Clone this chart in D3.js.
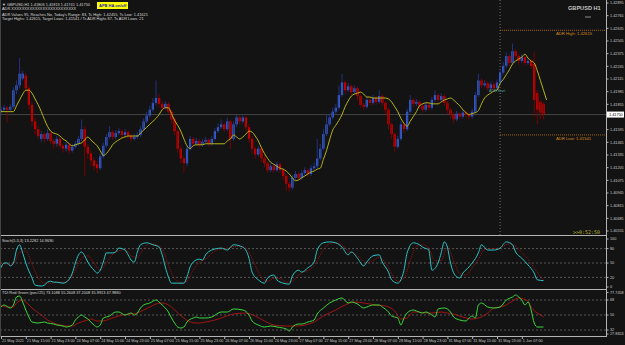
<!DOCTYPE html>
<html><head><meta charset="utf-8">
<script src="https://cdn.jsdelivr.net/npm/d3@7"></script>
<style>html,body{margin:0;padding:0;background:#131313;overflow:hidden}svg{display:block}</style>
</head><body><svg id="c" width="625" height="345"></svg>
<script>
// ---- DATA (GBPUSD H1, 21 May 07:00 -> 1 Jun 14:00) ----
const opens = [1.4178,1.4180,1.4182,1.4180,1.4183,1.4200,1.4205,1.4212,1.4215,1.4202,
1.4185,1.4168,1.4160,1.4150,1.4155,1.4150,1.4156,1.4148,1.4145,1.4150,
1.4143,1.4140,1.4144,1.4138,1.4142,1.4145,1.4150,1.4160,1.4142,1.4135,
1.4128,1.4124,1.4120,1.4132,1.4143,1.4152,1.4157,1.4152,1.4156,1.4158,
1.4154,1.4157,1.4153,1.4150,1.4152,1.4154,1.4160,1.4168,1.4174,1.4180,
1.4187,1.4192,1.4186,1.4182,1.4186,1.4178,1.4170,1.4158,1.4140,1.4130,
1.4125,1.4140,1.4150,1.4145,1.4148,1.4144,1.4147,1.4149,1.4145,1.4150,
1.4158,1.4162,1.4165,1.4160,1.4168,1.4150,1.4165,1.4172,1.4168,1.4172,
1.4162,1.4150,1.4140,1.4134,1.4140,1.4130,1.4125,1.4118,1.4122,1.4118,
1.4124,1.4118,1.4112,1.4104,1.4100,1.4110,1.4114,1.4110,1.4115,1.4118,
1.4114,1.4120,1.4122,1.4130,1.4140,1.4155,1.4165,1.4172,1.4178,1.4182,
1.4195,1.4208,1.4200,1.4204,1.4198,1.4202,1.4194,1.4185,1.4183,1.4190,
1.4187,1.4192,1.4188,1.4194,1.4187,1.4180,1.4165,1.4155,1.4142,1.4150,
1.4165,1.4160,1.4178,1.4190,1.4186,1.4188,1.4184,1.4180,1.4185,1.4182,
1.4190,1.4195,1.4190,1.4194,1.4187,1.4180,1.4175,1.4170,1.4176,1.4173,
1.4177,1.4175,1.4173,1.4178,1.4195,1.4210,1.4205,1.4207,1.4202,1.4206,
1.4202,1.4208,1.4218,1.4225,1.4235,1.4228,1.4240,1.4235,1.4230,1.4234,
1.4228,1.4230,1.4227,1.4197,1.4188,1.4186];
const closes = [1.4180,1.4182,1.4180,1.4183,1.4200,1.4205,1.4217,1.4217,1.4202,1.4185,
1.4168,1.4160,1.4153,1.4155,1.4150,1.4156,1.4148,1.4145,1.4150,1.4143,
1.4140,1.4144,1.4138,1.4142,1.4145,1.4150,1.4160,1.4142,1.4135,1.4128,
1.4122,1.4120,1.4132,1.4143,1.4152,1.4157,1.4152,1.4156,1.4158,1.4154,
1.4157,1.4153,1.4150,1.4152,1.4154,1.4160,1.4168,1.4174,1.4180,1.4187,
1.4192,1.4186,1.4182,1.4186,1.4178,1.4170,1.4158,1.4140,1.4130,1.4125,
1.4140,1.4150,1.4145,1.4148,1.4144,1.4147,1.4149,1.4145,1.4150,1.4158,
1.4162,1.4165,1.4160,1.4168,1.4150,1.4165,1.4172,1.4168,1.4172,1.4162,
1.4150,1.4140,1.4134,1.4140,1.4130,1.4125,1.4118,1.4122,1.4118,1.4124,
1.4118,1.4112,1.4104,1.4100,1.4110,1.4114,1.4110,1.4115,1.4118,1.4114,
1.4120,1.4122,1.4130,1.4140,1.4155,1.4165,1.4172,1.4178,1.4182,1.4195,
1.4208,1.4200,1.4204,1.4198,1.4202,1.4194,1.4185,1.4183,1.4190,1.4187,
1.4192,1.4188,1.4194,1.4187,1.4180,1.4165,1.4155,1.4142,1.4150,1.4165,
1.4160,1.4178,1.4190,1.4186,1.4188,1.4184,1.4180,1.4185,1.4182,1.4190,
1.4195,1.4190,1.4194,1.4187,1.4180,1.4175,1.4170,1.4176,1.4173,1.4177,
1.4175,1.4173,1.4178,1.4195,1.4210,1.4205,1.4207,1.4202,1.4206,1.4202,
1.4208,1.4218,1.4225,1.4235,1.4228,1.4240,1.4235,1.4230,1.4234,1.4228,
1.4230,1.4225,1.4190,1.4180,1.4177,1.4175];
const highs = [1.4183,1.4185,1.4184,1.4186,1.4203,1.4210,1.4233,1.4220,1.4218,1.4204,
1.4188,1.4172,1.4163,1.4158,1.4157,1.4160,1.4158,1.4150,1.4153,1.4152,
1.4145,1.4147,1.4146,1.4145,1.4148,1.4153,1.4170,1.4163,1.4145,1.4138,
1.4131,1.4127,1.4135,1.4146,1.4155,1.4163,1.4159,1.4159,1.4161,1.4160,
1.4160,1.4159,1.4155,1.4155,1.4157,1.4163,1.4171,1.4178,1.4184,1.4192,
1.4210,1.4196,1.4189,1.4189,1.4188,1.4180,1.4172,1.4160,1.4143,1.4133,
1.4143,1.4153,1.4152,1.4151,1.4150,1.4150,1.4152,1.4151,1.4153,1.4161,
1.4166,1.4170,1.4167,1.4172,1.4170,1.4168,1.4175,1.4174,1.4175,1.4174,
1.4165,1.4153,1.4142,1.4143,1.4142,1.4133,1.4127,1.4125,1.4124,1.4127,
1.4126,1.4120,1.4114,1.4106,1.4113,1.4117,1.4116,1.4118,1.4121,1.4120,
1.4123,1.4126,1.4150,1.4145,1.4160,1.4175,1.4176,1.4182,1.4186,1.4205,
1.4217,1.4210,1.4207,1.4206,1.4205,1.4204,1.4196,1.4187,1.4193,1.4192,
1.4195,1.4194,1.4200,1.4196,1.4189,1.4182,1.4167,1.4157,1.4153,1.4168,
1.4167,1.4181,1.4195,1.4192,1.4191,1.4190,1.4186,1.4188,1.4187,1.4193,
1.4200,1.4197,1.4197,1.4196,1.4189,1.4182,1.4177,1.4179,1.4178,1.4180,
1.4179,1.4177,1.4181,1.4198,1.4217,1.4212,1.4210,1.4209,1.4209,1.4208,
1.4211,1.4222,1.4229,1.4239,1.4237,1.4248,1.4242,1.4237,1.4237,1.4236,
1.4233,1.4232,1.4240,1.4200,1.4190,1.4188];
const lows = [1.4176,1.4178,1.4167,1.4178,1.4181,1.4196,1.4202,1.4210,1.4198,1.4180,
1.4163,1.4155,1.4150,1.4147,1.4146,1.4148,1.4145,1.4140,1.4142,1.4140,
1.4136,1.4137,1.4135,1.4136,1.4140,1.4143,1.4148,1.4112,1.4130,1.4122,
1.4118,1.4115,1.4118,1.4130,1.4141,1.4150,1.4149,1.4150,1.4154,1.4151,
1.4152,1.4150,1.4147,1.4148,1.4150,1.4152,1.4158,1.4166,1.4172,1.4178,
1.4185,1.4183,1.4179,1.4180,1.4175,1.4166,1.4154,1.4136,1.4125,1.4115,
1.4122,1.4138,1.4142,1.4143,1.4141,1.4142,1.4145,1.4142,1.4143,1.4148,
1.4156,1.4160,1.4157,1.4158,1.4140,1.4148,1.4162,1.4165,1.4166,1.4158,
1.4146,1.4135,1.4130,1.4132,1.4126,1.4121,1.4115,1.4116,1.4115,1.4116,
1.4115,1.4108,1.4097,1.4096,1.4098,1.4108,1.4107,1.4108,1.4113,1.4111,
1.4112,1.4118,1.4120,1.4128,1.4138,1.4153,1.4163,1.4170,1.4176,1.4180,
1.4193,1.4196,1.4198,1.4195,1.4196,1.4190,1.4182,1.4180,1.4181,1.4184,
1.4185,1.4185,1.4186,1.4184,1.4176,1.4160,1.4150,1.4137,1.4140,1.4148,
1.4156,1.4158,1.4176,1.4183,1.4184,1.4181,1.4177,1.4178,1.4179,1.4180,
1.4188,1.4187,1.4188,1.4184,1.4176,1.4171,1.4166,1.4168,1.4170,1.4171,
1.4172,1.4170,1.4171,1.4176,1.4193,1.4202,1.4203,1.4199,1.4200,1.4199,
1.4200,1.4206,1.4216,1.4223,1.4225,1.4226,1.4232,1.4226,1.4228,1.4225,
1.4226,1.4222,1.4173,1.4165,1.4170,1.4170];
const maLine = [1.4178,1.4178,1.4178,1.4178,1.4178,1.4184,1.4190,1.4196,1.4200,1.4200,
1.4197,1.4191,1.4185,1.4178,1.4170,1.4163,1.4158,1.4156,1.4155,1.4153,
1.4150,1.4148,1.4145,1.4143,1.4144,1.4145,1.4146,1.4149,1.4152,1.4149,
1.4146,1.4143,1.4138,1.4133,1.4135,1.4139,1.4144,1.4147,1.4149,1.4151,
1.4152,1.4153,1.4153,1.4153,1.4153,1.4156,1.4159,1.4162,1.4165,1.4168,
1.4171,1.4175,1.4180,1.4182,1.4182,1.4176,1.4169,1.4164,1.4158,1.4150,
1.4143,1.4140,1.4143,1.4144,1.4144,1.4144,1.4145,1.4145,1.4145,1.4145,
1.4145,1.4145,1.4145,1.4148,1.4150,1.4154,1.4152,1.4150,1.4152,1.4155,
1.4158,1.4157,1.4153,1.4148,1.4141,1.4135,1.4130,1.4126,1.4124,1.4122,
1.4120,1.4119,1.4117,1.4114,1.4110,1.4107,1.4108,1.4110,1.4112,1.4114,
1.4116,1.4117,1.4119,1.4120,1.4129,1.4138,1.4149,1.4159,1.4164,1.4169,
1.4175,1.4183,1.4189,1.4194,1.4196,1.4197,1.4198,1.4196,1.4193,1.4193,
1.4192,1.4192,1.4192,1.4192,1.4192,1.4191,1.4188,1.4183,1.4178,1.4171,
1.4166,1.4163,1.4168,1.4173,1.4178,1.4184,1.4186,1.4187,1.4187,1.4186,
1.4186,1.4186,1.4188,1.4190,1.4191,1.4192,1.4190,1.4187,1.4184,1.4180,
1.4177,1.4175,1.4176,1.4177,1.4179,1.4186,1.4192,1.4195,1.4197,1.4199,
1.4200,1.4207,1.4211,1.4216,1.4221,1.4227,1.4230,1.4232,1.4234,1.4237,
1.4233,1.4230,1.4228,1.4220,1.4210,1.4200,1.4190];
const timeLabels = ["21 May 2021","21 May 15:00","21 May 23:00","24 May 07:00","24 May 15:00","24 May 23:00",
"25 May 07:00","25 May 15:00","25 May 23:00","26 May 07:00","26 May 15:00","26 May 23:00",
"27 May 07:00","27 May 15:00","27 May 23:00","28 May 07:00","28 May 15:00","28 May 23:00",
"31 May 07:00","31 May 15:00","31 May 23:00","1 Jun 07:00"];
const timeLabelBars = [0,8,16,24,32,40,48,56,64,72,80,88,96,104,112,120,128,136,144,152,160,168];
const priceTicks = [1.42895,1.42765,1.42635,1.42505,1.42375,1.42245,1.42115,1.41985,1.41855,1.41725,
1.41595,1.41465,1.41335,1.41205,1.41075,1.40945,1.40815,1.40685,1.40555];
const lastPrice = 1.41750;
const adrHigh = 1.42615, adrLow = 1.41541, adrStartBar = 161;
const stochK = [[0,40],[1,50],[2,50],[3,44],[4,50],[5,77],[6,88],[7,71],[8,50],[10,19],[11,4],[13,2],[14,4],[15,10],[16,12],[17,10],[18,10],[20,8],[21,10],[23,29],[24,50],[25,67],[26,73],[27,65],[28,52],[30,35],[31,29],[32,35],[33,52],[34,71],[35,71],[36,71],[37,73],[38,81],[40,77],[41,67],[42,56],[43,52],[44,73],[45,88],[47,92],[49,88],[51,83],[52,67],[53,42],[54,21],[55,8],[57,8],[59,8],[60,21],[61,42],[62,52],[64,58],[65,56],[66,67],[68,77],[71,81],[73,77],[75,88],[78,83],[80,60],[81,31],[83,15],[85,8],[86,19],[88,25],[89,15],[91,8],[93,6],[94,23],[96,35],[97,31],[99,40],[101,52],[102,77],[104,92],[106,94],[108,92],[110,83],[112,67],[113,73],[115,60],[117,44],[118,52],[120,65],[122,67],[123,52],[125,31],[126,15],[128,8],[129,15],[130,35],[131,71],[133,92],[135,88],[136,83],[138,77],[139,35],[141,50],[142,71],[143,94],[144,83],[145,50],[147,21],[148,19],[149,29],[151,42],[152,50],[154,71],[155,88],[157,77],[159,77],[161,81],[163,94],[165,88],[166,73],[168,60],[170,46],[172,29],[173,15],[175,13.23]];
const stochD = [[0,50],[2,48],[4,48],[6,72],[8,75],[10,48],[12,20],[14,8],[16,8],[18,10],[20,10],[22,15],[24,35],[26,60],[28,65],[30,50],[32,35],[34,50],[36,68],[38,75],[40,78],[42,65],[44,62],[46,80],[48,90],[50,88],[52,80],[54,45],[56,18],[58,8],[60,12],[62,35],[64,52],[66,58],[68,70],[70,78],[72,80],[74,82],[76,85],[78,85],[80,72],[82,45],[84,20],[86,12],[88,18],[90,18],[92,10],[94,12],[96,25],[98,32],[100,38],[102,55],[104,78],[106,90],[108,92],[110,88],[112,75],[114,70],[116,60],[118,50],[120,55],[122,62],[124,50],[126,28],[128,12],[130,18],[132,55],[134,85],[136,88],[138,80],[140,55],[142,55],[144,85],[146,55],[148,28],[150,25],[152,40],[154,58],[156,78],[158,80],[160,80],[162,85],[164,90],[166,85],[168,72],[170,58],[172,40],[174,22],[175,14.97]];
const tdiGreen = [[0,59.6],[1,62],[3,58.4],[4,62],[5,71.6],[6,72.8],[7,65.6],[8,56],[9,47.6],[10,41.6],[12,40.4],[14,41.6],[15,40.4],[17,39.2],[18,38],[20,36.8],[21,35.6],[23,38],[24,44],[25,47.6],[26,50],[27,47.6],[28,45.2],[30,38],[31,35.6],[32,38],[33,46.4],[34,47.6],[35,48.8],[37,53.6],[38,53.6],[40,50],[42,52.4],[43,50],[44,52.4],[45,58.4],[46,62],[48,64.4],[50,68],[51,65.6],[52,62],[54,53.6],[55,46.4],[56,40.4],[57,35.6],[58,34.4],[59,35.6],[60,41.6],[62,46.4],[63,47.6],[64,46.4],[66,46.4],[68,47.6],[71,53.6],[73,53.6],[75,57.2],[78,56],[80,50],[81,42.8],[83,38],[85,35.6],[87,36.8],[89,35.6],[92,33.2],[93,30.8],[94,35.6],[96,39.2],[97,39.2],[99,41.6],[101,44],[102,51.2],[104,58.4],[106,64.4],[108,68],[110,70.4],[112,64.4],[113,65.6],[115,63.2],[117,58.4],[118,59.6],[120,62],[122,62],[123,59.6],[125,53.6],[126,48.8],[128,46.4],[129,38],[130,46.4],[131,52.4],[133,56],[134,54.8],[136,52.4],[137,53.6],[139,50],[140,47.6],[141,57.2],[143,58.4],[145,53.6],[146,47.6],[148,44],[150,42.8],[151,46.4],[152,48.8],[153,46.4],[154,62],[155,64.4],[157,59.6],[159,58.4],[161,59.6],[163,68],[165,71.6],[166,74],[167,71.6],[168,68],[169,62],[170,65.6],[171,56],[172,40.4],[173,35.6],[175,35.6]];
const tdiRed = [[0,62],[2,59.6],[4,59.6],[5,64.4],[7,68],[8,65.6],[10,58.4],[13,50],[15,44],[17,40.4],[19,38],[21,36.8],[23,36.8],[25,40.4],[28,44],[29,45.2],[31,42.8],[33,42.8],[35,45.2],[37,47.6],[39,50],[42,51.2],[44,52.4],[46,56],[48,59.6],[50,63.2],[52,64.4],[55,59.6],[57,52.4],[59,46.4],[61,41.6],[63,40.4],[64,40.4],[66,41.6],[69,44],[72,47.6],[75,51.2],[79,52.4],[82,48.8],[85,42.8],[88,38],[92,36.8],[95,36.8],[98,38],[101,41.6],[104,48.8],[108,56],[111,62],[114,65.6],[117,64.4],[121,62],[124,60.8],[127,54.8],[129,45.2],[131,46.4],[133,53.6],[135,53.6],[137,52.4],[139,52.4],[142,53.6],[144,52.4],[146,51.2],[148,48.8],[150,46.4],[152,45.2],[155,47.6],[157,52.4],[159,58.4],[161,59.6],[163,62],[165,66.8],[167,70.4],[170,66.8],[171,59.6],[173,52.4],[175,47.98]];
const stochLevels = [80,50,20];
const tdiLevels = [68,50,32];

// ---- DRAW ----
const svg = d3.select("#c");
const FONT = "'Liberation Sans', Arial, sans-serif";
const W = 625, AX = 606.5;
const x = d3.scaleLinear().domain([0,175]).range([1,543.5]);
const y = d3.scaleLinear().domain([1.40555,1.42895]).range([231,3]);
const ys = d3.scaleLinear().domain([0,100]).range([287,239]);
const yt = d3.scaleLinear().domain([32,68]).range([330,300]);

svg.append("rect").attr("width",W).attr("height",345).attr("fill","#131313");

// current price (bid) line
svg.append("line").attr("x1",0).attr("x2",AX).attr("y1",y(lastPrice)).attr("y2",y(lastPrice))
  .attr("stroke","#444444").attr("stroke-width",1);

// ADR start vertical dotted line and ADR levels
const xs = x(adrStartBar);
svg.append("line").attr("x1",xs).attr("x2",xs).attr("y1",0).attr("y2",235)
  .attr("stroke","#8a8a8a").attr("stroke-dasharray","1,2").attr("stroke-width",0.8);
[[adrHigh,"ADR High: 1.42615"],[adrLow,"ADR Low: 1.41541"]].forEach(([p,t])=>{
  svg.append("line").attr("x1",xs).attr("x2",AX).attr("y1",y(p)).attr("y2",y(p))
    .attr("stroke","#b0721a").attr("stroke-dasharray","1,1").attr("stroke-width",0.9);
  svg.append("text").attr("x",556).attr("y",y(p)+5).text(t)
    .attr("fill","#d88a1c").attr("font-size",4.2).attr("font-family",FONT);
});

// candles
const bw = 2.2;
const cand = svg.append("g");
closes.forEach((c,i)=>{
  const o = opens[i], up = c >= o;
  cand.append("rect").attr("x",x(i)-bw/2).attr("width",bw)
    .attr("y",y(Math.max(o,c))).attr("height",Math.max(1,Math.abs(y(o)-y(c))))
    .attr("fill", up ? "#3f6fef" : "#f00000");
  cand.append("line").attr("x1",x(i)).attr("x2",x(i)).attr("y1",y(highs[i])).attr("y2",y(lows[i]))
    .attr("stroke", up ? "#22348a" : "#800000").attr("stroke-width",0.9);
});

// moving average (yellow)
svg.append("path").datum(maLine)
  .attr("d", d3.line().x((d,i)=>x(i)).y(d=>y(d)).curve(d3.curveMonotoneX))
  .attr("fill","none").attr("stroke","#b5b51a").attr("stroke-width",1);

svg.append("text").attr("x",489).attr("y",92).text("ADR Start")
  .attr("fill","#4fa0a0").attr("font-size",3.6).attr("font-family",FONT);

// header text
const hdr = ["\u25BC GBPUSD,H1  1.41806 1.41813 1.41741 1.41750",
 "ADR XXXXXXXXXXXXXXXXXXXXXXXXX",
 "ADR Values 95, Reaches No, Today's Range: 83, Ts High: 1.42455, Ts Low: 1.41621",
 "Target Highs: 1.42615, Target Lows: 1.41541 / Ts ADR Highs 87, Ts ADR Lows: 21"];
const hy = [5.5,10,15.8,20.3];
hdr.forEach((t,i)=>svg.append("text").attr("x",2).attr("y",hy[i]).text(t)
  .attr("fill","#d8d8d8").attr("font-size",3.9).attr("font-family",FONT));
svg.append("rect").attr("x",97).attr("y",2).attr("width",31).attr("height",7).attr("fill","#ffff00");
svg.append("text").attr("x",99).attr("y",7).text("APB HA on/off").attr("fill","#1a1ab0")
  .attr("font-size",4).attr("font-weight","bold").attr("font-family",FONT);

svg.append("text").attr("x",568).attr("y",10).text("GBPUSD H1").attr("fill","#c4c4c4")
  .attr("font-size",5.6).attr("font-weight","bold").attr("font-family",FONT);
svg.append("line").attr("x1",585).attr("x2",591).attr("y1",17).attr("y2",17).attr("stroke","#aaa").attr("stroke-width",0.8);

svg.append("text").attr("x",573).attr("y",234).text(">>0:52:50").attr("fill","#b8b830")
  .attr("font-size",5).attr("font-family","'DejaVu Sans Mono', monospace");

// sub-pane level lines
stochLevels.forEach(v=>svg.append("line").attr("x1",0).attr("x2",AX).attr("y1",ys(v)).attr("y2",ys(v))
  .attr("stroke","#6a6a6a").attr("stroke-dasharray","2,2").attr("stroke-width",0.8));
tdiLevels.forEach(v=>svg.append("line").attr("x1",0).attr("x2",AX).attr("y1",yt(v)).attr("y2",yt(v))
  .attr("stroke","#6a6a6a").attr("stroke-dasharray","2,2").attr("stroke-width",0.8));

const curve = d3.curveMonotoneX;
const lnS = d3.line().x(d=>x(d[0])).y(d=>ys(d[1])).curve(curve);
const lnT = d3.line().x(d=>x(d[0])).y(d=>yt(d[1])).curve(curve);
svg.append("path").datum(stochD).attr("d",lnS).attr("fill","none").attr("stroke","#b01010")
  .attr("stroke-width",0.9).attr("stroke-dasharray","1,1");
svg.append("path").datum(stochK).attr("d",lnS).attr("fill","none").attr("stroke","#2cc4c4").attr("stroke-width",1);
svg.append("path").datum(tdiRed).attr("d",lnT).attr("fill","none").attr("stroke","#b01414").attr("stroke-width",0.9);
svg.append("path").datum(tdiGreen).attr("d",lnT).attr("fill","none").attr("stroke","#3ad83a").attr("stroke-width",1);

svg.append("text").attr("x",2).attr("y",242).text("Stoch(5,3,3) 13.2282 14.9690")
  .attr("fill","#d8d8d8").attr("font-size",3.9).attr("font-family",FONT);
svg.append("text").attr("x",2).attr("y",294).text("TDI Red Green (pos#25) 73.1088 55.2608 37.2008 35.9913 47.9880")
  .attr("fill","#d8d8d8").attr("font-size",3.9).attr("font-family",FONT);

// pane frames
const fr = "#b4b4b4";
[235.5,289.5,336.5].forEach(v=>svg.append("line").attr("x1",0).attr("x2",AX).attr("y1",v).attr("y2",v).attr("stroke",fr).attr("stroke-width",1));
svg.append("line").attr("x1",AX).attr("x2",AX).attr("y1",0).attr("y2",337).attr("stroke",fr).attr("stroke-width",1);
svg.append("line").attr("x1",0.5).attr("x2",0.5).attr("y1",0).attr("y2",337).attr("stroke","#444").attr("stroke-width",1);

// price axis (the label under the current-price box is hidden, as in MT4)
const pa = svg.append("g");
priceTicks.filter(p=>Math.abs(y(p)-y(lastPrice))>5).forEach(p=>{
  pa.append("line").attr("x1",AX).attr("x2",AX+2).attr("y1",y(p)).attr("y2",y(p)).attr("stroke",fr);
  pa.append("text").attr("x",610).attr("y",y(p)+1.4).text(p.toFixed(5))
    .attr("fill","#c8c8c8").attr("font-size",3.8).attr("font-family",FONT);
});
svg.append("rect").attr("x",607).attr("y",y(lastPrice)-3).attr("width",17).attr("height",6).attr("fill","#ffffff");
svg.append("text").attr("x",609).attr("y",y(lastPrice)+1.4).text(lastPrice.toFixed(5))
  .attr("fill","#000").attr("font-size",3.8).attr("font-family",FONT);

// sub-pane axis labels
const subLabels = [[239,"100"],[ys(80),"80"],[ys(50),"50"],[ys(20),"20"],[287,"0"],
  [292.5,"77.7458"],[yt(68),"68"],[yt(50),"50"],[yt(32),"32"],[334,"27.8824"]];
subLabels.forEach(([yy,t])=>{
  svg.append("line").attr("x1",AX).attr("x2",AX+2).attr("y1",yy).attr("y2",yy).attr("stroke",fr);
  svg.append("text").attr("x",610).attr("y",yy+1.4).text(t)
    .attr("fill","#c8c8c8").attr("font-size",3.8).attr("font-family",FONT);
});

// time axis
const xa = d3.axisBottom(x).tickValues(timeLabelBars).tickSize(2.5).tickFormat((d,i)=>timeLabels[i]);
const gx = svg.append("g").attr("transform","translate(0,336.5)").call(xa);
gx.select(".domain").remove();
gx.selectAll(".tick line").attr("stroke",fr);
gx.selectAll(".tick text").attr("fill","#c8c8c8").attr("font-size",3.8).attr("font-family",FONT)
  .attr("text-anchor","start").attr("dx",0.5).attr("y",3.2).attr("dy","0.71em");
</script></body></html>
